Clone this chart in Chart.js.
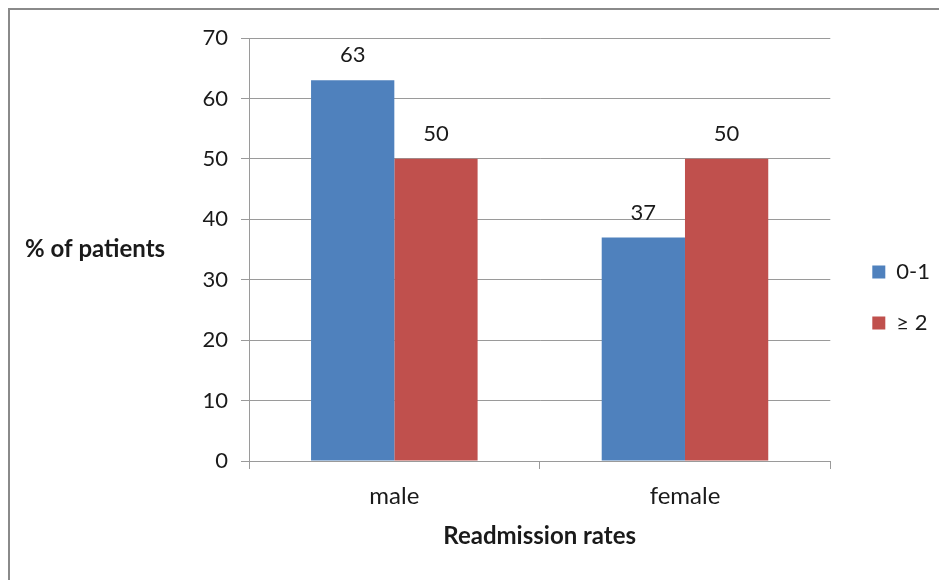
<!DOCTYPE html>
<html>
<head>
<meta charset="utf-8">
<script src="https://cdn.jsdelivr.net/npm/chart.js@4.4.1/dist/chart.umd.min.js"></script>
<style>
  html, body { margin: 0; padding: 0; background: #ffffff; }
  #wrap { position: relative; width: 939px; height: 580px; overflow: hidden; }
  #frame { position: absolute; left: 8px; top: 8px; width: 1000px; height: 1000px;
           border-left: 2px solid #8a8a8a; border-top: 2px solid #8a8a8a; box-sizing: border-box; }
  #c { position: absolute; left: 0; top: 0; }
</style>
</head>
<body>
<div id="wrap">
  <div id="frame"></div>
  <canvas id="c" width="939" height="580"></canvas>
</div>
<script>
// Readmission counts by sex, as percentage of patients
const categories = ['male', 'female'];
const seriesNames = ['0-1', '\u2265 2'];
const lowReadmissions = [63, 37];
const highReadmissions = [50, 50];
const yTicks = [0, 10, 20, 30, 40, 50, 60, 70];

const FONT = 'Lato, "Open Sans", sans-serif';
const TEXT = '#1a1a1a';
const GRID = '#9a9a9a';

// value labels above each bar
const valueLabels = {
  id: 'valueLabels',
  afterDatasetsDraw(chart) {
    const ctx = chart.ctx;
    ctx.save();
    ctx.font = '22px ' + FONT;
    ctx.fillStyle = TEXT;
    ctx.textAlign = 'center';
    ctx.textBaseline = 'middle';
    chart.data.datasets.forEach((ds, i) => {
      chart.getDatasetMeta(i).data.forEach((bar, j) => {
        ctx.fillText(String(ds.data[j]), bar.x, bar.y - 25);
      });
    });
    ctx.restore();
  }
};

// horizontal y-axis title left of the tick labels
const yTitle = {
  id: 'yTitle',
  afterDraw(chart) {
    const ctx = chart.ctx;
    const a = chart.chartArea;
    ctx.save();
    ctx.font = 'bold 24px ' + FONT;
    ctx.fillStyle = TEXT;
    ctx.textAlign = 'left';
    ctx.textBaseline = 'middle';
    ctx.fillText('% of patients', 25, (a.top + a.bottom) / 2);
    ctx.restore();
  }
};

// leave a wider gap between the plot and the legend
const legendGap = {
  id: 'legendGap',
  afterLayout(chart) {
    if (chart.legend) {
      chart.legend.left += 13;
      chart.legend.right += 13;
    }
  }
};

new Chart(document.getElementById('c'), {
  type: 'bar',
  data: {
    labels: categories,
    datasets: [
      { label: seriesNames[0], data: lowReadmissions, backgroundColor: '#4f81bd' },
      { label: seriesNames[1], data: highReadmissions, backgroundColor: '#c0504d' }
    ]
  },
  plugins: [valueLabels, yTitle, legendGap],
  options: {
    responsive: false,
    animation: false,
    devicePixelRatio: 1,
    layout: { padding: { top: 38, right: 12, bottom: 23, left: 0 } },
    datasets: { bar: { categoryPercentage: 0.573, barPercentage: 1.0 } },
    plugins: {
      tooltip: { enabled: false },
      legend: {
        position: 'right',
        labels: {
          font: { family: FONT, size: 22 },
          color: TEXT,
          boxWidth: 13,
          boxHeight: 13,
          padding: 29
        }
      }
    },
    scales: {
      x: {
        grid: { display: true, drawOnChartArea: false, drawTicks: true, tickLength: 8, color: GRID, offset: true },
        border: { display: true, color: GRID, width: 1 },
        ticks: { font: { family: FONT, size: 24 }, color: TEXT, padding: 13 },
        title: { display: true, text: 'Readmission rates', font: { family: FONT, size: 24, weight: 'bold' }, color: TEXT, padding: { top: 0, bottom: 6 } },
        afterFit(scale) { scale.height = 96; }
      },
      y: {
        min: 0,
        max: 70,
        afterBuildTicks(scale) { scale.ticks = yTicks.map(v => ({ value: v })); },
        grid: { color: GRID, tickLength: 8, drawTicks: true },
        border: { display: true, color: GRID, width: 1 },
        ticks: { font: { family: FONT, size: 22 }, color: TEXT, padding: 13 },
        afterFit(scale) { scale.width = 249; }
      }
    }
  }
});
</script>
</body>
</html>
